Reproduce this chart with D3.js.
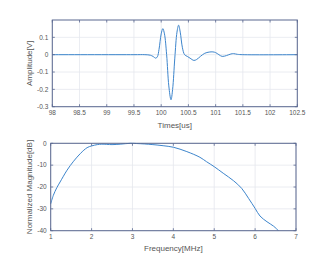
<!DOCTYPE html>
<html><head><meta charset="utf-8">
<script src="https://cdn.jsdelivr.net/npm/d3@7"></script>
<style>body{margin:0;background:#fff}svg{display:block}</style>
</head><body><svg id="c" width="319" height="260"></svg>
<script>
const timeUs = [98.0,99.5,99.7,99.8,99.85,99.9,99.93,99.96,100.0,100.03,100.06,100.1,100.14,100.18,100.21,100.25,100.29,100.32,100.35,100.39,100.43,100.48,100.53,100.6,100.65,100.72,100.8,100.88,100.95,101.0,101.06,101.12,101.2,101.28,101.33,101.4,101.5,102.5];
const amplitude = [0,0,0,-0.003,-0.01,-0.02,-0.012,0.03,0.12,0.15,0.12,0.0,-0.18,-0.26,-0.2,-0.02,0.13,0.17,0.13,0.04,0.0,-0.01,-0.02,-0.033,-0.028,-0.01,0.008,0.015,0.016,0.012,0.0,-0.01,-0.005,0.004,0.006,0.002,0,0];
const freqMHz = [1.0,1.065,1.15,1.23,1.4,1.56,1.73,1.89,2.0,2.14,2.25,2.5,2.7,2.95,3.1,3.3,3.5,3.75,4.0,4.33,4.65,4.81,5.0,5.22,5.47,5.67,5.84,6.0,6.12,6.29,6.45,6.57];
const magnitudeDb = [-27.7,-23.8,-20.3,-17.7,-12.3,-8.2,-4.6,-2.0,-1.2,-0.6,-0.4,-0.6,-0.4,0,-0.1,-0.3,-0.6,-1.1,-1.8,-3.8,-6.4,-8.4,-10.7,-13.7,-17.1,-20.6,-25.2,-29.8,-33.3,-35.9,-37.9,-40];
const topXTicks = [98,98.5,99,99.5,100,100.5,101,101.5,102,102.5];
const topYTicks = [-0.3,-0.2,-0.1,0,0.1];
const botXTicks = [1,2,3,4,5,6,7];
const botYTicks = [-40,-30,-20,-10,0];

const svg = d3.select('#c');
const axisCol = '#5a6890', gridCol = '#e4e7ee', textCol = '#555', lineCol = '#3d85cc';
const font = 'Liberation Sans, Arial, sans-serif';

function panel(o){
  const x = d3.scaleLinear().domain(o.xd).range([o.l, o.r]);
  const y = d3.scaleLinear().domain(o.yd).range([o.b, o.t]);
  const g = svg.append('g');
  g.selectAll('.gx').data(o.xt).join('line').attr('x1',d=>x(d)).attr('x2',d=>x(d)).attr('y1',o.t).attr('y2',o.b).attr('stroke',gridCol).attr('stroke-width',0.8);
  g.selectAll('.gy').data(o.yt).join('line').attr('y1',d=>y(d)).attr('y2',d=>y(d)).attr('x1',o.l).attr('x2',o.r).attr('stroke',gridCol).attr('stroke-width',0.8);
  const pts = o.xs.map((v,i)=>[v,o.ys[i]]);
  g.append('path').datum(pts).attr('fill','none').attr('stroke',lineCol).attr('stroke-width',1)
    .attr('d', d3.line().x(d=>x(d[0])).y(d=>y(d[1])).curve(d3.curveCatmullRom.alpha(0.5)));
  const tl = 2.5;
  o.xt.forEach(d=>{
    g.append('line').attr('x1',x(d)).attr('x2',x(d)).attr('y1',o.b).attr('y2',o.b-tl).attr('stroke',axisCol).attr('stroke-width',0.8);
    g.append('line').attr('x1',x(d)).attr('x2',x(d)).attr('y1',o.t).attr('y2',o.t+tl).attr('stroke',axisCol).attr('stroke-width',0.8);
  });
  o.yt.forEach(d=>{
    g.append('line').attr('y1',y(d)).attr('y2',y(d)).attr('x1',o.l).attr('x2',o.l+tl).attr('stroke',axisCol).attr('stroke-width',0.8);
    g.append('line').attr('y1',y(d)).attr('y2',y(d)).attr('x1',o.r).attr('x2',o.r-tl).attr('stroke',axisCol).attr('stroke-width',0.8);
  });
  g.append('rect').attr('x',o.l).attr('y',o.t).attr('width',o.r-o.l).attr('height',o.b-o.t).attr('fill','none').attr('stroke',axisCol).attr('stroke-width',1);
  g.selectAll('.tx').data(o.xt).join('text').attr('x',d=>x(d)).attr('y',o.b+8.5).attr('text-anchor','middle')
    .attr('font-family',font).attr('font-size',6.5).attr('fill',textCol).text(d=>d);
  g.selectAll('.ty').data(o.yt).join('text').attr('x',o.l-4).attr('y',d=>y(d)+2.3).attr('text-anchor','end')
    .attr('font-family',font).attr('font-size',6.5).attr('fill',textCol).text(d=>d);
  g.append('text').attr('x',(o.l+o.r)/2).attr('y',o.xly).attr('text-anchor','middle').attr('font-family',font).attr('font-size',8).attr('fill',textCol).text(o.xl);
  g.append('text').attr('transform',`translate(${o.ylx},${(o.t+o.b)/2}) rotate(-90)`).attr('text-anchor','middle').attr('font-family',font).attr('font-size',8).attr('fill',textCol).text(o.yl);
}

panel({l:52.3,r:297.3,t:20,b:106.7,xd:[98,102.5],yd:[-0.3,0.2],xt:topXTicks,yt:topYTicks,xs:timeUs,ys:amplitude,xl:'Times[us]',yl:'Amplitude[V]',xly:127.5,ylx:32});
panel({l:50.7,r:296,t:143.3,b:230.7,xd:[1,7],yd:[-40,0],xt:botXTicks,yt:botYTicks,xs:freqMHz,ys:magnitudeDb,xl:'Frequency[MHz]',yl:'Normalized Magnitude[dB]',xly:251,ylx:32});
</script></body></html>
